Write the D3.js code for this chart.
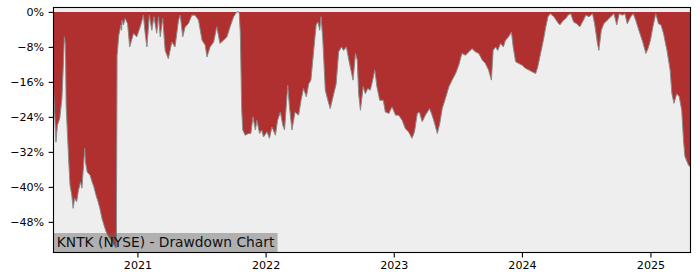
<!DOCTYPE html>
<html>
<head>
<meta charset="utf-8">
<script src="https://cdn.jsdelivr.net/npm/d3@7"></script>
<style>
  body { margin: 0; background: #fff; }
  svg { display: block; font-family: "DejaVu Sans", sans-serif; }
</style>
</head>
<body>
<div class="panel"></div>
<script>
const width = 700;
const height = 280;
const margins = {top: 7.5, right: 9.5, bottom: 27.5, left: 53.5};

const title = "KNTK (NYSE) - Drawdown Chart";

// drawdown readings, percent below running peak
const dates = [
  "2020-05-07","2020-05-14","2020-05-18","2020-05-25","2020-05-31","2020-06-04","2020-06-07","2020-06-10",
  "2020-06-12","2020-06-14","2020-06-19","2020-06-23","2020-06-28","2020-07-02","2020-07-06","2020-07-12",
  "2020-07-17","2020-07-23","2020-07-27","2020-07-31","2020-08-04","2020-08-06","2020-08-11","2020-08-19",
  "2020-08-25","2020-08-30","2020-09-05","2020-09-11","2020-09-16","2020-09-22","2020-09-28","2020-10-04",
  "2020-10-11","2020-10-19","2020-10-26","2020-11-02","2020-11-04","2020-11-09","2020-11-15","2020-11-17",
  "2020-11-18","2020-11-22","2020-11-27","2020-12-04","2020-12-10","2020-12-21","2020-12-30",
  "2021-01-09","2021-01-18","2021-01-23","2021-01-28","2021-02-04","2021-02-11","2021-02-17","2021-02-25",
  "2021-03-02","2021-03-07","2021-03-14","2021-03-21","2021-03-30","2021-04-09","2021-04-18","2021-04-28",
  "2021-05-03","2021-05-10","2021-05-17","2021-05-26","2021-06-05","2021-06-14","2021-06-24","2021-07-04",
  "2021-07-13","2021-07-18","2021-07-27","2021-08-06","2021-08-15","2021-08-24","2021-09-03","2021-09-13",
  "2021-09-22","2021-10-02","2021-10-11","2021-10-16","2021-10-18","2021-10-21","2021-10-25","2021-10-28",
  "2021-11-04","2021-11-13","2021-11-20","2021-11-26","2021-12-03","2021-12-07","2021-12-15","2021-12-21",
  "2021-12-26",
  "2022-01-05","2022-01-12","2022-01-19","2022-01-29","2022-02-04","2022-02-12","2022-02-19","2022-02-24",
  "2022-03-05","2022-03-10","2022-03-17","2022-03-26","2022-04-05","2022-04-12","2022-04-19","2022-04-27",
  "2022-05-04","2022-05-10","2022-05-18","2022-05-25","2022-05-30","2022-06-04","2022-06-08","2022-06-13",
  "2022-06-20","2022-06-26","2022-07-04","2022-07-12","2022-07-21","2022-07-28","2022-08-05","2022-08-11",
  "2022-08-19","2022-08-26","2022-09-02","2022-09-07","2022-09-14","2022-09-19","2022-09-23","2022-09-28",
  "2022-10-06","2022-10-12","2022-10-19","2022-10-26","2022-11-02","2022-11-08","2022-11-14","2022-11-22",
  "2022-12-02","2022-12-08","2022-12-18","2022-12-27",
  "2023-01-06","2023-01-15","2023-01-25","2023-02-03","2023-02-12","2023-02-22","2023-03-01","2023-03-09",
  "2023-03-15","2023-03-23","2023-04-01","2023-04-13","2023-04-20","2023-04-26","2023-05-05","2023-05-12",
  "2023-05-19","2023-05-28","2023-06-07","2023-06-16","2023-06-26","2023-07-05","2023-07-14","2023-07-24",
  "2023-08-03","2023-08-12","2023-08-21","2023-08-31","2023-09-10","2023-09-19","2023-09-28","2023-10-06",
  "2023-10-11","2023-10-18","2023-10-24","2023-11-01","2023-11-09","2023-11-15","2023-11-24","2023-12-02",
  "2023-12-07","2023-12-14","2023-12-23",
  "2024-01-02","2024-01-11","2024-01-21","2024-01-30","2024-02-09","2024-02-15","2024-02-23","2024-03-02",
  "2024-03-08","2024-03-15","2024-03-22","2024-04-01","2024-04-11","2024-04-18","2024-04-28","2024-05-05",
  "2024-05-11","2024-05-19","2024-05-27","2024-06-05","2024-06-14","2024-06-24","2024-07-01","2024-07-10",
  "2024-07-20","2024-07-26","2024-08-03","2024-08-07","2024-08-14","2024-08-21","2024-08-31","2024-09-10",
  "2024-09-19","2024-09-27","2024-10-04","2024-10-13","2024-10-20","2024-10-27","2024-11-06","2024-11-13",
  "2024-11-20","2024-11-29","2024-12-10","2024-12-19","2024-12-25",
  "2025-01-01","2025-01-08","2025-01-16","2025-01-24","2025-01-31","2025-02-07","2025-02-17","2025-02-26",
  "2025-03-03","2025-03-09","2025-03-17","2025-03-24","2025-03-31","2025-04-05","2025-04-09","2025-04-19",
  "2025-04-25"
];

const drawdown = [
  -17.5,-29.8,-25.9,-24.3,-19.7,-12.2,-5.7,-7.6,
  -21.3,-25.0,-33.5,-39.6,-41.9,-44.9,-42.6,-43.4,
  -40.8,-38.9,-40.3,-35.7,-31.2,-34.3,-36.6,-37.3,
  -38.9,-40.0,-41.9,-43.4,-44.9,-47.2,-48.8,-50.3,
  -51.4,-52.2,-53.3,-54.0,-10.0,-5.3,-3.0,-4.2,
  -1.9,-3.0,-1.5,-2.7,-8.0,-4.9,-5.7,
  -3.4,-0.75,-4.9,-8.0,-0.75,-4.2,-1.1,-4.9,
  -1.1,-5.7,-1.5,-8.8,-10.7,-6.9,-8.0,-1.9,
  -0.75,-5.7,-3.4,-2.7,-0.75,-0.75,-1.9,-6.5,
  -7.6,-10.3,-8.0,-6.9,-3.4,-7.2,-6.5,-5.7,
  -3.4,-1.1,0,0,-0.4,-4.9,-22.5,-27.0,
  -28.2,-27.8,-27.8,-24.0,-27.0,-24.8,-27.8,-27.0,
  -28.6,
  -27.4,-28.9,-26.3,-28.2,-24.8,-22.9,-25.9,-27.0,
  -16.8,-21.7,-27.0,-22.9,-23.6,-20.2,-17.5,-19.4,
  -16.4,-15.6,-8.8,-3.0,-2.3,-4.2,-1.1,-6.5,
  -17.9,-19.8,-22.1,-19.4,-16.4,-9.1,-8.0,-8.8,
  -8.0,-11.0,-13.7,-15.6,-9.5,-11.0,-18.7,-22.5,
  -17.1,-18.7,-17.5,-17.9,-15.6,-13.3,-17.1,-20.2,
  -20.2,-22.9,-23.2,-21.7,
  -23.6,-23.6,-24.8,-26.7,-27.4,-28.9,-27.4,-23.2,
  -22.9,-25.1,-23.6,-22.1,-23.6,-25.1,-27.8,-25.5,
  -22.1,-19.8,-17.1,-15.6,-14.1,-12.2,-9.5,-9.9,
  -9.1,-8.4,-9.1,-9.5,-11.0,-11.8,-13.3,-15.6,
  -8.8,-8.0,-8.8,-7.2,-8.0,-6.5,-5.7,-4.6,
  -8.0,-11.4,-11.8,
  -12.2,-12.9,-13.3,-13.7,-14.1,-12.6,-9.5,-6.5,
  -3.8,-1.1,-0.4,-1.1,-2.3,-3.0,-1.9,-1.5,
  -0.75,-0.4,-2.3,-2.7,-3.4,-1.9,-0.75,-1.1,
  -0.4,-2.7,-7.2,-8.8,-4.2,-2.7,-1.9,-1.1,
  -0.4,-3.0,-0.4,-0.75,-0.4,-2.7,-1.1,-0.4,
  -1.9,-4.2,-6.9,-9.5,-8.4,
  -6.5,-3.4,-0.4,-2.7,-3.0,-4.9,-8.8,-13.3,
  -18.7,-20.9,-18.7,-19.4,-22.5,-29.3,-33.0,-35.0,
  -35.5
];

const yTicks = [0, -8, -16, -24, -32, -40, -48];
const yDomain = [-55, 1];

const parse = d3.timeParse("%Y-%m-%d");
const data = dates.map((d, i) => ({date: parse(d), value: drawdown[i]}));

const svg = d3.select(".panel")
  .append("svg")
  .attr("width", width)
  .attr("height", height);

const x = d3.scaleTime()
  .domain(d3.extent(data, d => d.date))
  .range([margins.left, width - margins.right]);

const y = d3.scaleLinear()
  .domain(yDomain)
  .range([height - margins.bottom, margins.top]);

const plotW = width - margins.left - margins.right;
const plotH = height - margins.top - margins.bottom;

svg.append("rect")
  .attr("x", margins.left)
  .attr("y", margins.top)
  .attr("width", plotW)
  .attr("height", plotH)
  .attr("fill", "#eeeeee");

svg.append("defs").append("clipPath")
  .attr("id", "clip")
  .append("rect")
  .attr("x", margins.left)
  .attr("y", margins.top)
  .attr("width", plotW)
  .attr("height", plotH);

const plot = svg.append("g").attr("clip-path", "url(#clip)");

const area = d3.area()
  .x(d => x(d.date))
  .y0(y(0))
  .y1(d => y(d.value));

plot.append("path")
  .datum(data)
  .attr("fill", "#b03030")
  .attr("d", area);

const line = d3.line()
  .x(d => x(d.date))
  .y(d => y(d.value));

plot.append("path")
  .datum(data)
  .attr("fill", "none")
  .attr("stroke", "#8a8a8a")
  .attr("stroke-width", 1)
  .attr("d", line);

// title label sitting on the bottom of the plot
const label = svg.append("g");
const labelText = label.append("text")
  .attr("x", margins.left + 3.3)
  .attr("y", height - margins.bottom - 5.5)
  .attr("font-size", 13.8)
  .attr("fill", "#111")
  .text(title);
const tw = labelText.node().getComputedTextLength();
label.insert("rect", "text")
  .attr("x", margins.left)
  .attr("y", height - margins.bottom - 19.5)
  .attr("width", tw + 6.5)
  .attr("height", 19)
  .attr("fill", "#646464")
  .attr("fill-opacity", 0.45);

const yAxis = d3.axisLeft(y)
  .tickValues(yTicks)
  .tickFormat(d => d3.format(".0f")(d) + "%")
  .tickSize(4.9)
  .tickPadding(4.5);

const xAxis = d3.axisBottom(x)
  .ticks(d3.timeYear.every(1))
  .tickFormat(d3.timeFormat("%Y"))
  .tickSize(4.9)
  .tickPadding(3.5);

const gy = svg.append("g")
  .attr("transform", `translate(${margins.left},0)`)
  .call(yAxis);

const gx = svg.append("g")
  .attr("transform", `translate(0,${height - margins.bottom})`)
  .call(xAxis);

[gx, gy].forEach(g => {
  g.select(".domain").remove();
  g.selectAll(".tick line").attr("stroke", "#000").attr("stroke-width", 1.1);
  g.selectAll(".tick text")
    .attr("font-family", "DejaVu Sans")
    .attr("font-size", 11.1)
    .attr("fill", "#000");
});

svg.append("rect")
  .attr("x", margins.left)
  .attr("y", margins.top)
  .attr("width", plotW)
  .attr("height", plotH)
  .attr("fill", "none")
  .attr("stroke", "#000")
  .attr("stroke-width", 1.1);
</script>
</body>
</html>
